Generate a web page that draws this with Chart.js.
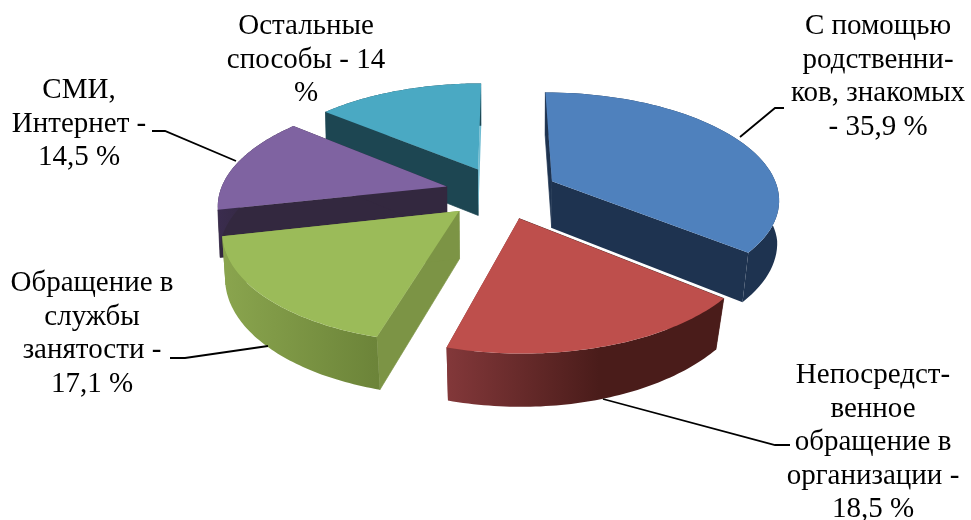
<!DOCTYPE html>
<html>
<head>
<meta charset="utf-8">
<style>
  html, body { margin: 0; padding: 0; background: #fff; }
  #wrap { width: 971px; height: 520px; }
</style>
<script src="https://cdn.jsdelivr.net/npm/chart.js@4/dist/chart.umd.min.js"></script>
</head>
<body>
<div id="wrap"><canvas id="chart" width="971" height="520"></canvas></div>
<script>
const categories = [
  'С помощью родственников, знакомых',
  'Непосредственное обращение в организации',
  'Обращение в службы занятости',
  'СМИ, Интернет',
  'Остальные способы'
];
const shares = [35.9, 18.5, 17.1, 14.5, 14];

const topColors = ['#4f81bd', '#be4f4c', '#9bbb59', '#7f63a1', '#4aa9c3'];
const startCutColors = ['#1e3350', '#4a1c1a', '#7c9445', '#33283f', '#1d4652'];
const endCutColors = ['#1e3350', '#7f3533', '#7c9445', '#33283f', '#6fbcd2'];
const rimLeftColors = ['#1e3350', '#83383a', '#8aa54e', '#3a2c4e', '#1d4652'];
const rimRightColors = ['#1e3350', '#4a1c1a', '#6c8439', '#33283f', '#1d4652'];
const rimStops = [0.55, 0.55, 1, 0.55, 0.55];

// label lines and leader lines, same order as categories
const labelLines = [
  ['С помощью', 'родственни-', 'ков, знакомых', '- 35,9 %'],
  ['Непосредст-', 'венное', 'обращение в', 'организации -', '18,5 %'],
  ['Обращение в', 'службы', 'занятости -', '17,1 %'],
  ['СМИ,', 'Интернет -', '14,5 %'],
  ['Остальные', 'способы - 14', '%']
];
const labelAnchors = [[878, 34], [873, 383], [92, 291], [79, 98], [306, 34]];
const leaders = [
  [[740, 137], [775, 108], [784, 108]],
  [[603, 399], [775, 445], [790, 445]],
  [[268, 346], [185, 358], [170, 358]],
  [[236, 161], [165, 131], [152, 131]],
  []
];

const view = { squash: 0.465, persp: 0.152, explode: 0.25, depth: 47 };

// maps a point of the flat pie to the screen, z is the height below the top face
function project(arc, px, py, z) {
  const R = arc.outerRadius;
  const s = 1 / (1 - view.persp * py / R);
  let x = px * s;
  let y = view.squash * py * s;
  if (z) {
    // the lower edge pulls in a little towards the front, less on the left
    const pull = px < 0 ? 0.0175 : 0.035;
    x *= 0.995 - pull * Math.max(0, py / R);
    y += view.depth * Math.pow(s, 0.6);
  }
  return [arc.x + x, arc.y + y];
}

function slicePoint(arc, angle, r, z) {
  const mid = (arc.startAngle + arc.endAngle) / 2;
  const R = arc.outerRadius;
  const ox = view.explode * R * Math.cos(mid);
  const oy = view.explode * R * Math.sin(mid);
  return project(arc, ox + r * Math.cos(angle), oy + r * Math.sin(angle), z);
}

function arcPoints(arc, z) {
  const pts = [];
  const steps = 60;
  for (let i = 0; i <= steps; i++) {
    const a = arc.startAngle + (arc.endAngle - arc.startAngle) * i / steps;
    pts.push(slicePoint(arc, a, arc.outerRadius, z));
  }
  return pts;
}

function fillPoly(ctx, pts, fill, seam) {
  ctx.beginPath();
  pts.forEach((p, i) => i ? ctx.lineTo(p[0], p[1]) : ctx.moveTo(p[0], p[1]));
  ctx.closePath();
  ctx.fillStyle = fill;
  ctx.fill();
  if (seam) {
    // closes the hairline between neighbouring faces
    ctx.strokeStyle = fill;
    ctx.lineWidth = 0.7;
    ctx.stroke();
  }
}

const pie3d = {
  id: 'pie3d',
  beforeDatasetDraw(chart, args) {
    const ctx = chart.ctx;
    const arcs = args.meta.data.map((arc, i) => ({ arc, i }));
    const midY = a => Math.sin((a.arc.startAngle + a.arc.endAngle) / 2);
    arcs.sort((a, b) => midY(a) - midY(b));

    arcs.forEach(({ arc, i }) => {
      const top = arcPoints(arc, 0);
      const bottom = arcPoints(arc, 1);
      const apexTop = slicePoint(arc, arc.startAngle, 0, 0);
      const apexBottom = slicePoint(arc, arc.startAngle, 0, 1);

      // cut faces
      fillPoly(ctx, [apexTop, top[0], bottom[0], apexBottom], startCutColors[i], true);
      fillPoly(ctx, [apexTop, top[top.length - 1], bottom[bottom.length - 1], apexBottom], endCutColors[i], false);

      // outer rim
      const xs = top.map(p => p[0]);
      const grad = ctx.createLinearGradient(Math.min(...xs), 0, Math.max(...xs), 0);
      grad.addColorStop(0, rimLeftColors[i]);
      grad.addColorStop(rimStops[i], rimRightColors[i]);
      grad.addColorStop(1, rimRightColors[i]);
      fillPoly(ctx, top.concat(bottom.slice().reverse()), grad, false);

      // top face
      fillPoly(ctx, [apexTop].concat(top), arc.options.backgroundColor, false);
    });
    return false;
  },
  afterDraw(chart) {
    const ctx = chart.ctx;
    ctx.save();
    ctx.strokeStyle = '#000';
    ctx.lineWidth = 1.8;
    leaders.forEach(line => {
      if (!line.length) return;
      ctx.beginPath();
      line.forEach((p, i) => i ? ctx.lineTo(p[0], p[1]) : ctx.moveTo(p[0], p[1]));
      ctx.stroke();
    });
    ctx.fillStyle = '#000';
    ctx.font = '29px "Liberation Serif"';
    ctx.textAlign = 'center';
    ctx.textBaseline = 'alphabetic';
    labelLines.forEach((lines, i) => {
      lines.forEach((text, j) => {
        ctx.fillText(text, labelAnchors[i][0], labelAnchors[i][1] + j * 33.6);
      });
    });
    ctx.restore();
  }
};

new Chart(document.getElementById('chart').getContext('2d'), {
  type: 'pie',
  data: {
    labels: categories,
    datasets: [{
      data: shares,
      backgroundColor: topColors,
      borderWidth: 0,
      clip: false
    }]
  },
  options: {
    responsive: false,
    animation: false,
    radius: 227,
    layout: { padding: { left: 32, bottom: 135 } },
    plugins: {
      legend: { display: false },
      tooltip: { enabled: false }
    }
  },
  plugins: [pie3d]
});
</script>
</body>
</html>
